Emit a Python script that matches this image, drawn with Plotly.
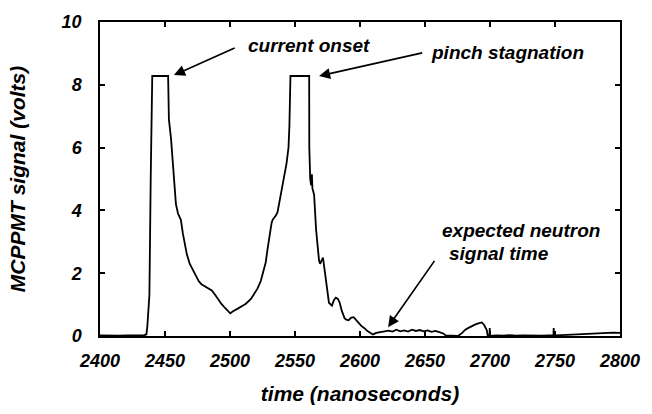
import plotly.graph_objects as go

# time (ns) and MCPPMT signal (volts)
time_ns = [
    2400, 2405, 2410, 2415, 2420, 2425, 2430, 2434, 2435.7, 2436.4, 2437.2, 2438.0,
    2439.0, 2439.5, 2440.0, 2440.2, 2452.4, 2453.0, 2454.6, 2456.9, 2458.4, 2460.0,
    2462.2, 2463.8, 2466.8, 2469.0, 2472.1, 2475.9, 2478.0, 2481.2, 2484.0, 2486.0,
    2488.8, 2491.0, 2493.4, 2496.0, 2498.0, 2500.2, 2502.0, 2504.0, 2506.3, 2509.0,
    2512.0, 2516.1, 2519.0, 2521.0, 2523.7, 2525.5, 2527.5, 2529.0, 2530.6, 2532.0,
    2532.8, 2534.3, 2535.5, 2536.6, 2538.1, 2540.4, 2541.9, 2543.5, 2545.0, 2545.7,
    2546.5, 2560.9, 2561.0, 2561.3, 2561.7, 2562.4, 2563.0, 2563.4, 2564.7, 2566.2,
    2567.5, 2568.5, 2569.3, 2570.5, 2571.5, 2573.1, 2574.5, 2576.1, 2578.4, 2580.0,
    2581.4, 2583.0, 2584.4, 2586.0, 2588.2, 2589.5, 2591.3, 2593.0, 2595.1, 2597.0,
    2598.9, 2601.0, 2603.4, 2606.0, 2608.7, 2610.0, 2612.5, 2615.0, 2618.0, 2622.0,
    2625.0, 2628.0, 2631.0, 2634.0, 2637.0, 2640.0, 2643.0, 2646.0, 2649.0, 2652.0,
    2655.0, 2658.0, 2661.0, 2664.0, 2666.0, 2670.0, 2675.5, 2678.6, 2681.0, 2683.1,
    2686.0, 2688.4, 2691.0, 2693.7, 2695.5, 2697.5, 2698.3, 2699.6, 2699.8, 2700.0,
    2705, 2710, 2715, 2720, 2725, 2730, 2735, 2740, 2745, 2748.8, 2749.0, 2749.2,
    2755, 2760, 2765, 2770, 2775, 2780, 2785, 2790, 2795, 2800,
]
signal_v = [
    0.02, 0.01, 0.02, 0.01, 0.02, 0.01, 0.02, 0.03, 0.05, 0.30, 0.90, 1.30,
    5.00, 6.80, 7.00, 8.28, 8.28, 6.90, 6.30, 4.90, 4.20, 3.90,
    3.70, 3.25, 2.60, 2.30, 2.05, 1.75, 1.65, 1.58, 1.50, 1.45,
    1.30, 1.15, 1.02, 0.90, 0.80, 0.72, 0.78, 0.82, 0.88, 0.95,
    1.02, 1.18, 1.35, 1.50, 1.75, 2.00, 2.35, 2.80, 3.30, 3.60,
    3.70, 3.78, 3.85, 3.95, 4.30, 4.90, 5.25, 5.50, 6.00, 6.70,
    8.28, 8.28, 6.00, 5.40, 5.00, 4.80, 5.15, 4.70, 4.50, 3.40,
    2.80, 2.40, 2.30, 2.45, 2.50, 2.00, 1.50, 1.06, 0.97, 1.15,
    1.22, 1.18, 1.06, 0.80, 0.56, 0.52, 0.50, 0.58, 0.60, 0.50,
    0.40, 0.32, 0.25, 0.15, 0.08, 0.05, 0.10, 0.12, 0.15, 0.17,
    0.14, 0.20, 0.15, 0.18, 0.14, 0.20, 0.16, 0.19, 0.15, 0.18,
    0.13, 0.16, 0.12, 0.08, 0.02, 0.01, 0.00, 0.10, 0.20, 0.25,
    0.32, 0.36, 0.40, 0.43, 0.35, 0.19, 0.00, 0.00, 0.25, 0.00,
    0.02, 0.01, 0.03, 0.01, 0.02, 0.01, 0.02, 0.01, 0.02, 0.02, 0.25, 0.02,
    0.03, 0.04, 0.05, 0.06, 0.08, 0.07, 0.09, 0.10, 0.11, 0.10,
]

x_ticks = [2400, 2450, 2500, 2550, 2600, 2650, 2700, 2750, 2800]
y_ticks = [0, 2, 4, 6, 8, 10]

FONT = "Liberation Sans"
tickfont = dict(family=FONT, size=18, color="black", weight="bold", style="italic")
annfont = dict(family=FONT, size=19, color="black", weight="bold", style="italic")

fig = go.Figure()
fig.add_trace(go.Scatter(x=time_ns, y=signal_v, mode="lines",
                         line=dict(color="black", width=1.8), showlegend=False,
                         hoverinfo="skip"))

axis_common = dict(showline=True, linecolor="black", linewidth=1.5, mirror="ticks",
                   ticks="inside", ticklen=5, tickwidth=1.5, tickcolor="black",
                   showgrid=False, zeroline=False, tickfont=tickfont)

fig.update_xaxes(range=[2400, 2800], tickvals=x_ticks, ticklabelstandoff=8,
                 title=dict(text="time (nanoseconds)", standoff=16,
                            font=dict(family=FONT, size=21, color="black",
                                      weight="bold", style="italic")),
                 **axis_common)
fig.update_yaxes(range=[0, 10], tickvals=y_ticks, ticklabelstandoff=13,
                 title=dict(text="MCPPMT signal (volts)", standoff=30,
                            font=dict(family=FONT, size=21, color="black",
                                      weight="bold", style="italic")),
                 **axis_common)

# arrows (tip at x,y; tail at ax,ay in data coordinates)
arrows = [
    (2456.9, 8.31, 2504.7, 9.19),
    (2568.5, 8.28, 2649.0, 9.03),
    (2621.6, 0.28, 2658.1, 2.44),
]
for (xt, yt, xa, ya) in arrows:
    fig.add_annotation(x=xt, y=yt, ax=xa, ay=ya, xref="x", yref="y", axref="x", ayref="y",
                       text="", showarrow=True, arrowhead=2, arrowsize=1.3,
                       arrowwidth=1.7, arrowcolor="black", standoff=0, startstandoff=0)

labels = [
    ("current onset", 2512.3, 9.25),
    ("pinch stagnation", 2652.8, 9.03),
    ("expected neutron", 2661.9, 3.375),
    ("signal time", 2667.2, 2.625),
]
for (txt, xl, yl) in labels:
    fig.add_annotation(x=xl, y=yl, xref="x", yref="y", text=txt, showarrow=False,
                       xanchor="left", yanchor="middle", font=annfont)

fig.update_layout(width=652, height=414, autosize=False,
                  margin=dict(l=100, r=25, t=21, b=73),
                  paper_bgcolor="white", plot_bgcolor="white")

fig.write_html("out.html", config={"displayModeBar": False},
               post_script="document.body.style.margin='0';document.body.style.overflow='hidden';")
